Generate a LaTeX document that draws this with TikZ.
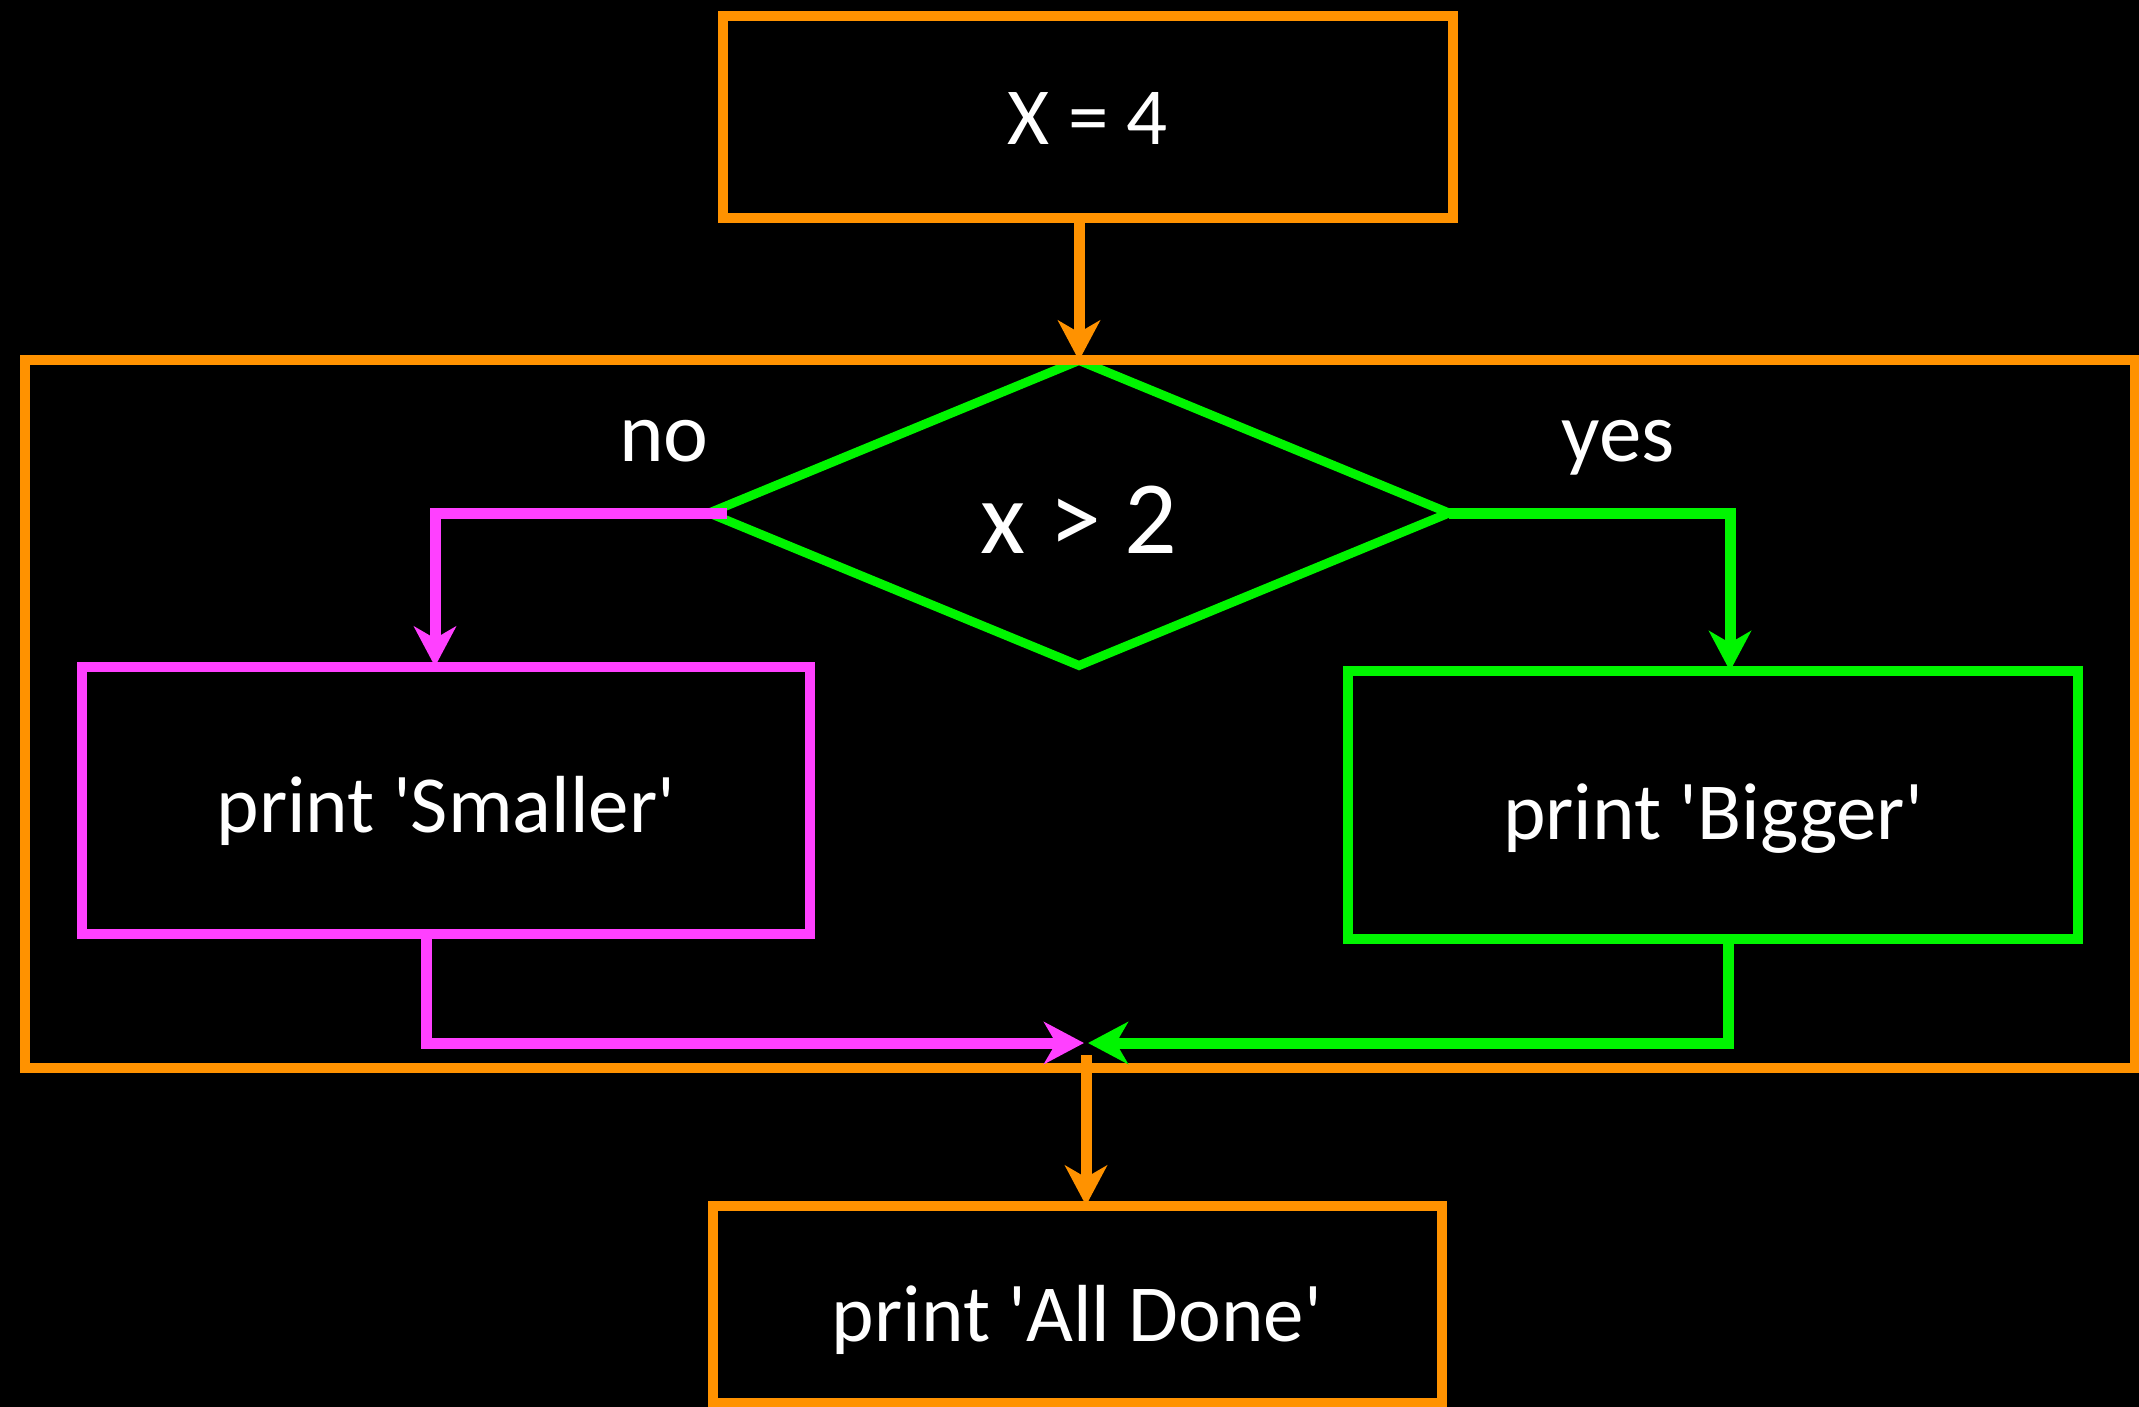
\documentclass[tikz,border=0pt]{standalone}
\usepackage{fontspec}
\setmainfont{Carlito}
\usetikzlibrary{shapes.geometric,arrows.meta}
\definecolor{cor}{RGB}{255,146,0}
\definecolor{cgr}{RGB}{0,245,0}
\definecolor{cmg}{RGB}{255,64,255}
\newcommand{\sq}{\textquotesingle}
\tikzset{
  box/.style={draw,rectangle,line width=10pt,inner sep=0pt,outer sep=0pt,text=white,text depth=0pt},
  conn/.style={line width=11pt,-{Stealth[length=40pt,width=42pt,inset=12pt]}},
  txt/.style={font=\fontsize{81}{86}\selectfont},
  lbl/.style={text=white,inner sep=0pt,anchor=base,font=\fontsize{85}{90}\selectfont}
}
\begin{document}
\begin{tikzpicture}[x=1pt,y=-1pt]
\fill[black] (0,0) rectangle (2139,1407);
\useasboundingbox (0,0) rectangle (2139,1407);
% decision
\node[diamond,draw=cgr,line width=9pt,aspect=2.43,inner sep=0pt,outer sep=0pt,
      minimum width=740pt,minimum height=305pt,text=white,text height=80pt,text depth=0pt,
      font=\fontsize{104}{110}\selectfont] (dia) at (1079,513) {x > 2};
% boxes
\node[box,txt,draw=cor,minimum width=730pt,minimum height=202pt,text height=56pt] (init) at (1088,117) {X = 4};
\node[box,draw=cor,minimum width=2110pt,minimum height=708pt] (loop) at (1080,714) {};
\node[box,txt,draw=cmg,minimum width=728pt,minimum height=267pt,text height=64pt] (small) at (446,800) {print \sq Smaller\sq};
\node[box,txt,draw=cgr,minimum width=730pt,minimum height=268pt,text height=68pt] (big) at (1713,805) {print \sq Bigger\sq};
\node[box,txt,draw=cor,minimum width=729pt,minimum height=197pt,text height=74pt] (done) at (1077,1304) {print \sq All Done\sq};
% labels
\node[lbl] (no) at (664,461) {no};
\node[lbl] (yes) at (1618,461) {yes};
\coordinate (join) at (1086,1043);
% connectors
\draw[conn,cor] (init.south -| dia.north) -- (dia.north);
\draw[conn,cmg] ([xshift=18pt]dia.west) -| ([xshift=-11pt]small.north);
\draw[conn,cgr] (dia.east) -| ([xshift=17pt]big.north);
\draw[conn,cmg] ([xshift=-20pt]small.south) |- ([xshift=-2pt]join);
\draw[conn,cgr] ([xshift=15pt]big.south) |- ([xshift=2pt]join);
\draw[conn,cor] ([yshift=-12pt]join) -- (join |- done.north);
\end{tikzpicture}
\end{document}
